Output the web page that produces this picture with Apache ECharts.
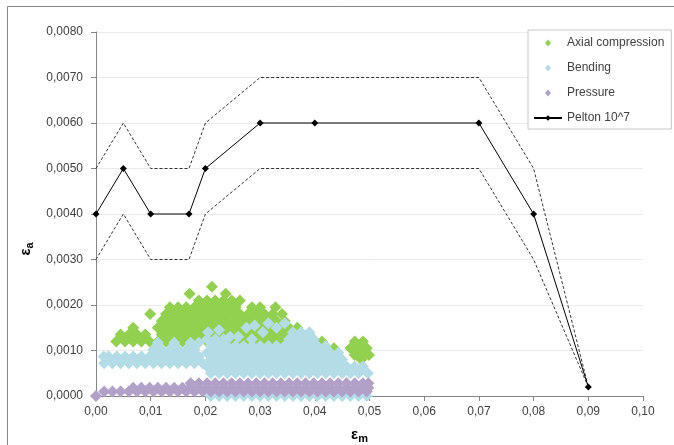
<!DOCTYPE html>
<html>
<head>
<meta charset="utf-8">
<script src="https://cdn.jsdelivr.net/npm/echarts@6/dist/echarts.min.js"></script>
<style>
  html, body { margin: 0; padding: 0; background: #fff; }
  #container { width: 674px; height: 445px; }
</style>
</head>
<body>
<div id="container"></div>
<script>
// Pelton 10^7 curve and its dashed band
const peltonX = [0, 0.005, 0.01, 0.017, 0.02, 0.03, 0.04, 0.07, 0.08, 0.09];
const peltonY = [0.004, 0.005, 0.004, 0.004, 0.005, 0.006, 0.006, 0.006, 0.004, 0.0002];
const bandX = [0, 0.005, 0.01, 0.017, 0.02, 0.03, 0.07, 0.08, 0.09];
const upperY = [0.005, 0.006, 0.005, 0.005, 0.006, 0.007, 0.007, 0.005, 0.0002];
const lowerY = [0.003, 0.004, 0.003, 0.003, 0.004, 0.005, 0.005, 0.003, 0.0002];

// scatter clouds, row by row: [y, [x, x, ...]]
const axialRows = [
  [0.0009, [0.0473, 0.0488, 0.0499]],
  [0.00105, [0.0405, 0.042, 0.0435, 0.0465, 0.048, 0.0495]],
  [0.0012, [0.0037, 0.0053, 0.0068, 0.0083, 0.0098, 0.0113, 0.0128, 0.0143, 0.0158, 0.0173, 0.0188, 0.0203, 0.0218, 0.0233, 0.0248, 0.0263, 0.0278, 0.0293, 0.0308, 0.0323, 0.0338, 0.0353, 0.0368, 0.0383, 0.0398, 0.0413, 0.0473, 0.0488]],
  [0.00135, [0.0045, 0.006, 0.0075, 0.009, 0.012, 0.0135, 0.015, 0.0165, 0.018, 0.0195, 0.021, 0.0225, 0.024, 0.0255, 0.027, 0.0285, 0.030, 0.0315, 0.033, 0.0345, 0.036, 0.0375, 0.039]],
  [0.0015, [0.0068, 0.0113, 0.0128, 0.0143, 0.0158, 0.0173, 0.0188, 0.0203, 0.0218, 0.0233, 0.0248, 0.0263, 0.0278, 0.0293, 0.0308, 0.0323, 0.0338, 0.0353, 0.0368]],
  [0.00165, [0.012, 0.0135, 0.015, 0.0165, 0.018, 0.0195, 0.021, 0.0225, 0.024, 0.0255, 0.027, 0.0285, 0.030, 0.0315, 0.033, 0.0345]],
  [0.0018, [0.0099, 0.0128, 0.0143, 0.0158, 0.0173, 0.0188, 0.0203, 0.0218, 0.0233, 0.0248, 0.0263, 0.0278, 0.0293, 0.0308, 0.0323, 0.034]],
  [0.00195, [0.0135, 0.015, 0.0165, 0.018, 0.0195, 0.021, 0.0225, 0.024, 0.0255, 0.0285, 0.030, 0.0328]],
  [0.0021, [0.0188, 0.0203, 0.0218, 0.0233, 0.0248, 0.0263]],
  [0.00225, [0.0171, 0.0237]],
  [0.0024, [0.0212]],
  [0.0008, [0.0485]]
];

const bendingRows = [
  [0.0, [0.021, 0.0225, 0.024, 0.0255, 0.027, 0.0285, 0.030, 0.0315, 0.033, 0.0345, 0.036, 0.0375, 0.039, 0.0405, 0.042, 0.0435, 0.045, 0.0465, 0.048, 0.0495]],
  [0.0005, [0.021, 0.0225, 0.024, 0.0255, 0.027, 0.0285, 0.030, 0.0315, 0.033, 0.0345, 0.036, 0.0375, 0.039, 0.0405, 0.042, 0.0435, 0.045, 0.0465, 0.048, 0.0497]],
  [0.00065, [0.0203, 0.0218, 0.0233, 0.0248, 0.0263, 0.0278, 0.0293, 0.0308, 0.0323, 0.0338, 0.0353, 0.0368, 0.0383, 0.0398, 0.0413, 0.0428, 0.0443, 0.0458, 0.0473, 0.0488]],
  [0.0008, [0.021, 0.0225, 0.024, 0.0255, 0.027, 0.0285, 0.030, 0.0315, 0.033, 0.0345, 0.036, 0.0375, 0.039, 0.0405, 0.042, 0.0435, 0.045]],
  [0.00095, [0.0203, 0.0218, 0.0233, 0.0248, 0.0263, 0.0278, 0.0293, 0.0308, 0.0323, 0.0338, 0.0353, 0.0368, 0.0383, 0.0398, 0.0413, 0.0428, 0.0443]],
  [0.0011, [0.021, 0.0225, 0.024, 0.0255, 0.027, 0.0285, 0.030, 0.0315, 0.033, 0.0345, 0.036, 0.0375, 0.039, 0.0405, 0.042]],
  [0.00125, [0.0203, 0.0218, 0.0233, 0.0285, 0.0353, 0.0368, 0.0383, 0.0398]],
  [0.0014, [0.0205, 0.0305, 0.036, 0.0375, 0.039]],
  [0.00145, [0.0225]],
  [0.0013, [0.0245, 0.026]],
  [0.0015, [0.0275, 0.033]],
  [0.00155, [0.029]],
  [0.0016, [0.0315, 0.0345]],
  // left band
  [0.00072, [0.0015, 0.003, 0.0045, 0.006, 0.0075, 0.009, 0.0105, 0.012, 0.0135, 0.015, 0.0165, 0.018, 0.0195]],
  [0.00087, [0.0014, 0.0023, 0.0038, 0.0053, 0.0068, 0.0083, 0.0098, 0.0113, 0.0128, 0.0143, 0.0158, 0.0173, 0.0188]],
  [0.00102, [0.0105, 0.012, 0.0135, 0.015, 0.0165, 0.018]],
  [0.00117, [0.0113, 0.0143, 0.0173, 0.0188]]
];

const pressureRows = [
  [0.0, [0.0]],
  [0.0001, [0.0015, 0.003, 0.0045, 0.006, 0.0075, 0.009, 0.0105, 0.012, 0.0135, 0.015, 0.0165, 0.018, 0.0195, 0.021, 0.0225, 0.024, 0.0255, 0.027, 0.0285, 0.030, 0.0315, 0.033, 0.0345, 0.036, 0.0375, 0.039, 0.0405, 0.042, 0.0435, 0.045, 0.0465, 0.048, 0.0495]],
  [0.00018, [0.0068, 0.0083, 0.0098, 0.0113, 0.0128, 0.0143, 0.0158, 0.0173, 0.0188, 0.0203, 0.0218, 0.0233, 0.0248, 0.0263, 0.0278, 0.0293, 0.0308, 0.0323, 0.0338, 0.0353, 0.0368, 0.0383, 0.0398, 0.0413, 0.0428, 0.0443, 0.0458, 0.0473, 0.0488, 0.0498]],
  [0.00028, [0.0173, 0.0188, 0.0203, 0.0218, 0.0233, 0.0248, 0.0263, 0.0278, 0.0293, 0.0308, 0.0323, 0.0338, 0.0353, 0.0368, 0.0383, 0.0398, 0.0413, 0.0428, 0.0443, 0.0458, 0.0473, 0.0488, 0.0498]]
];

function toPoints(rows) {
  const pts = [];
  rows.forEach(function (r) {
    r[1].forEach(function (x) { pts.push([x, r[0]]); });
  });
  return pts;
}
function zip(xs, ys) {
  return xs.map(function (x, i) { return [x, ys[i]]; });
}

const myChart = echarts.init(document.getElementById('container'), null, { renderer: 'canvas' });

const font = 'Liberation Sans, Arial, sans-serif';
const axisGray = '#868686';
const markSize = 12;
// small diamond centred in a 28x7 legend box (corner points keep the box from stretching it)
const legendDiamond = 'path://M0,0L0.01,0L0,0.01Z M28,7L27.99,7L28,6.99Z M14,0L17,3.5L14,7L11,3.5Z';

const option = {
  animation: false,
  backgroundColor: '#fff',
  textStyle: { fontFamily: font },
  grid: { left: 96, right: 31, top: 32, bottom: 49, outerBoundsMode: 'none' },
  graphic: [{
    type: 'rect',
    shape: { x: 7.5, y: 6.5, width: 720, height: 500 },
    style: { fill: 'none', stroke: axisGray, lineWidth: 1 },
    silent: true
  }],
  legend: {
    left: 528,
    top: 30,
    orient: 'vertical',
    backgroundColor: '#fff',
    borderColor: '#c8c8c8',
    borderWidth: 1,
    padding: [7, 7, 5, 5],
    itemWidth: 28,
    itemHeight: 7,
    itemGap: 13,
    textStyle: { color: '#404040', fontSize: 12, fontFamily: font },
    data: [
      { name: 'Axial compression', icon: legendDiamond },
      { name: 'Bending', icon: legendDiamond },
      { name: 'Pressure', icon: legendDiamond },
      { name: 'Pelton 10^7' }
    ]
  },
  xAxis: {
    type: 'value',
    min: 0,
    max: 0.1,
    interval: 0.01,
    name: '{a|ε}{b|m}',
    nameLocation: 'middle',
    nameGap: 29,
    nameTextStyle: {
      padding: [0, 20, 0, 0],
      rich: {
        a: { fontSize: 15, fontWeight: 'bold', color: '#000', lineHeight: 19, fontFamily: font },
        b: { fontSize: 11, fontWeight: 'bold', color: '#000', lineHeight: 11, verticalAlign: 'bottom', fontFamily: font }
      }
    },
    axisLine: { show: true, lineStyle: { color: axisGray } },
    axisTick: { show: true, length: 5, lineStyle: { color: axisGray } },
    splitLine: { show: false },
    axisLabel: {
      color: '#404040',
      fontSize: 12,
      margin: 10,
      formatter: function (v) { return v.toFixed(2).replace('.', ','); }
    }
  },
  yAxis: {
    type: 'value',
    min: 0,
    max: 0.008,
    interval: 0.001,
    name: '{a|ε}{b|a}',
    nameLocation: 'middle',
    nameGap: 46,
    nameTextStyle: {
      padding: [0, 70, 0, 0],
      rich: {
        a: { fontSize: 15, fontWeight: 'bold', color: '#000', lineHeight: 19, fontFamily: font },
        b: { fontSize: 11, fontWeight: 'bold', color: '#000', lineHeight: 11, verticalAlign: 'bottom', fontFamily: font }
      }
    },
    axisLine: { show: true, lineStyle: { color: axisGray } },
    axisTick: { show: true, length: 5, lineStyle: { color: axisGray } },
    splitLine: { show: true, lineStyle: { color: '#ebebeb' } },
    axisLabel: {
      color: '#404040',
      fontSize: 12,
      margin: 13,
      formatter: function (v) { return v.toFixed(4).replace('.', ','); }
    }
  },
  series: [
    {
      name: 'Axial compression',
      type: 'scatter',
      symbol: 'diamond',
      symbolSize: markSize,
      clip: false,
      itemStyle: { color: '#92D050', opacity: 1 },
      data: toPoints(axialRows)
    },
    {
      name: 'Bending',
      type: 'scatter',
      symbol: 'diamond',
      symbolSize: markSize,
      clip: false,
      itemStyle: { color: '#B4DCE7', opacity: 1 },
      data: toPoints(bendingRows)
    },
    {
      name: 'Pressure',
      type: 'scatter',
      symbol: 'diamond',
      symbolSize: markSize,
      clip: false,
      itemStyle: { color: '#B1A0C7', opacity: 1 },
      data: toPoints(pressureRows)
    },
    {
      name: 'upper',
      type: 'line',
      showSymbol: false,
      symbol: 'none',
      lineStyle: { color: '#333', width: 1, type: [3, 2] },
      data: zip(bandX, upperY)
    },
    {
      name: 'lower',
      type: 'line',
      showSymbol: false,
      symbol: 'none',
      lineStyle: { color: '#333', width: 1, type: [3, 2] },
      data: zip(bandX, lowerY)
    },
    {
      name: 'Pelton 10^7',
      type: 'line',
      symbol: 'diamond',
      symbolSize: 7,
      itemStyle: { color: '#000' },
      lineStyle: { color: '#000', width: 1 },
      data: zip(peltonX, peltonY)
    }
  ]
};

myChart.setOption(option);
window.addEventListener('resize', myChart.resize);
</script>
</body>
</html>
